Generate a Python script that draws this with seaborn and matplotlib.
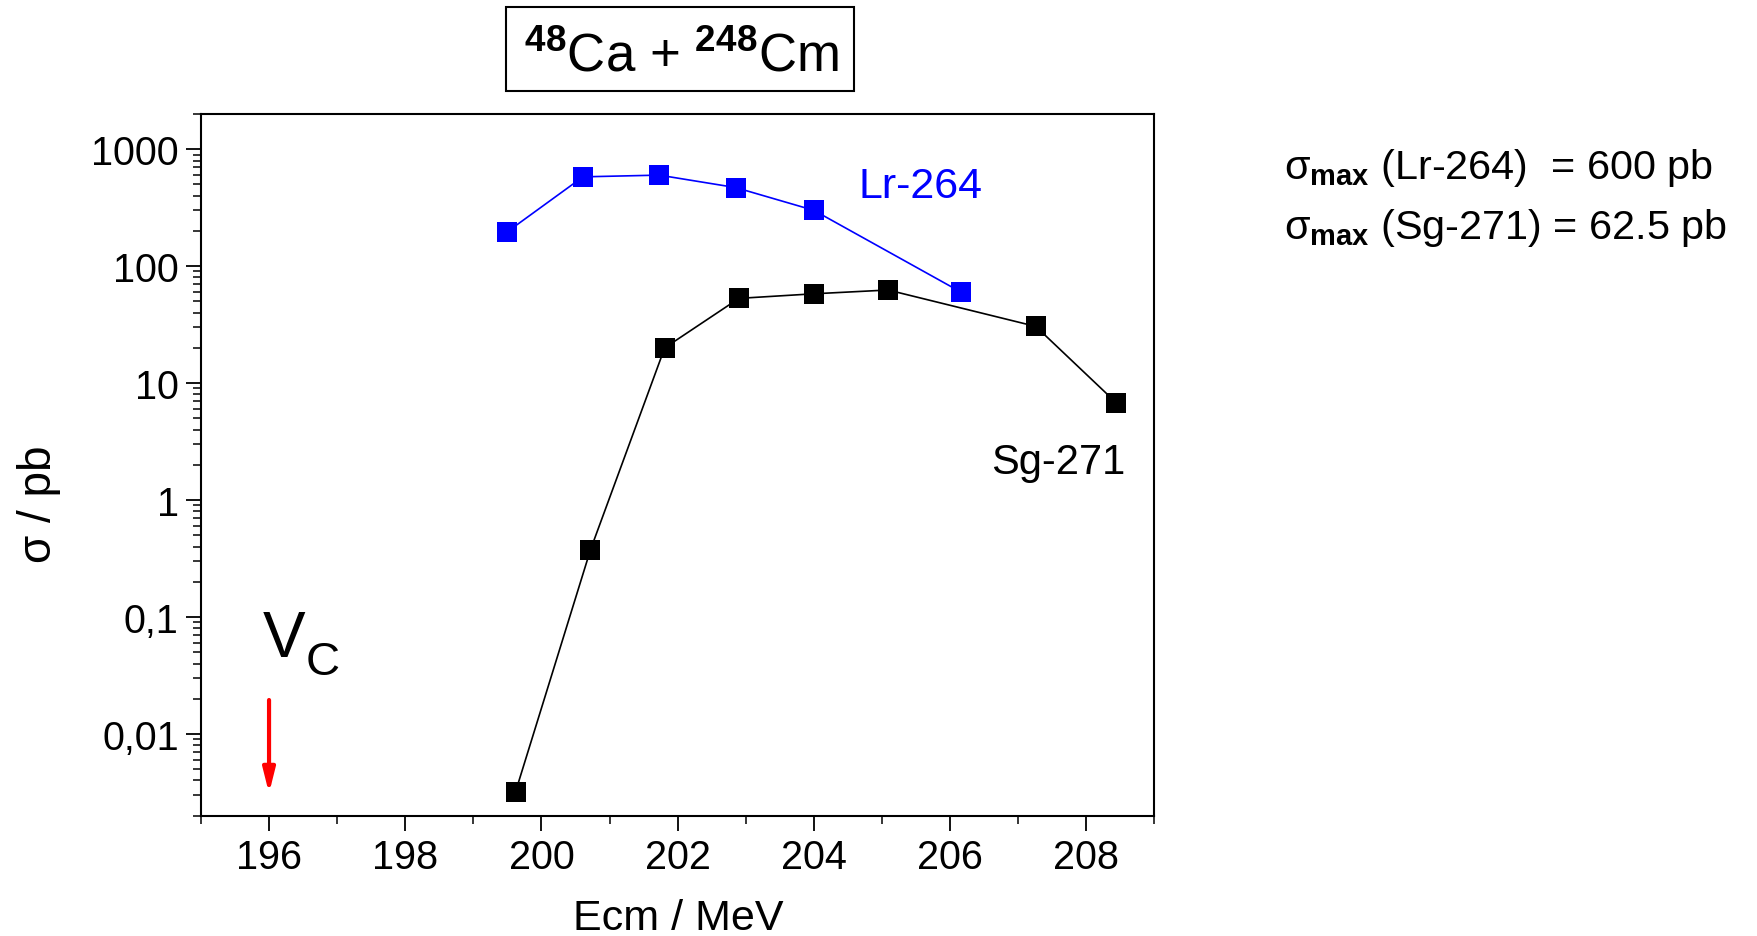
import matplotlib
matplotlib.use("Agg")
import matplotlib.pyplot as plt
import matplotlib.ticker as mticker
from matplotlib.patches import Rectangle
import numpy as np
import pandas as pd
import seaborn as sns

# Excitation functions for 48Ca + 248Cm
lr_energy = [199.49, 200.61, 201.73, 202.85, 204.00, 206.16]
lr_sigma = [195, 580, 600, 470, 300, 60]

sg_energy = [199.62, 200.72, 201.81, 202.90, 204.00, 205.09, 207.26, 208.44]
sg_sigma = [0.0032, 0.375, 20, 53, 58, 62.5, 30.5, 6.8]

y_ticks = [0.01, 0.1, 1, 10, 100, 1000]
y_tick_labels = ["0,01", "0,1", "1", "10", "100", "1000"]
x_ticks = [196, 198, 200, 202, 204, 206, 208]

coulomb_barrier = 196.0

sns.set_theme(style="ticks")
plt.rcParams["font.family"] = ["Liberation Sans", "DejaVu Sans"]
plt.rcParams["mathtext.fontset"] = "custom"
plt.rcParams["mathtext.rm"] = "Liberation Sans"
plt.rcParams["mathtext.it"] = "Liberation Sans"
plt.rcParams["mathtext.bf"] = "Liberation Sans:bold"
for key in ("text.color", "axes.labelcolor", "xtick.color", "ytick.color",
            "axes.edgecolor"):
    plt.rcParams[key] = "black"

fig = plt.figure(figsize=(17.58, 9.37), dpi=100)
ax = fig.add_axes([0.1143, 0.1284, 0.6566 - 0.1143, 0.8773 - 0.1284])

lr = pd.DataFrame({"E": lr_energy, "sigma": lr_sigma})
sg = pd.DataFrame({"E": sg_energy, "sigma": sg_sigma})

sns.lineplot(data=lr, x="E", y="sigma", ax=ax, color="blue", marker="s",
             markersize=14, markeredgewidth=0, linewidth=1.2, sort=False)
sns.lineplot(data=sg, x="E", y="sigma", ax=ax, color="black", marker="s",
             markersize=14, markeredgewidth=0, linewidth=1.2, sort=False)

ax.set_yscale("log")
ax.set_xlim(195, 209)
ax.set_ylim(0.002, 2000)

ax.set_xticks(x_ticks)
ax.xaxis.set_minor_locator(mticker.MultipleLocator(1))
ax.set_yticks(y_ticks)
ax.set_yticklabels(y_tick_labels)
ax.yaxis.set_minor_locator(mticker.LogLocator(base=10, subs=np.arange(2, 10)))
ax.yaxis.set_minor_formatter(mticker.NullFormatter())

ax.tick_params(axis="both", which="major", direction="out", length=11, width=1.3,
               labelsize=28.5, color="black", labelcolor="black", pad=5)
ax.tick_params(axis="both", which="minor", direction="out", length=6, width=1.1,
               color="black")
for s in ax.spines.values():
    s.set_visible(True)
    s.set_color("black")
    s.set_linewidth(1.5)

ax.set_xlabel("")
ax.set_ylabel("")
fig.text(0.3858, 0.008, "Ecm / MeV", fontsize=31, ha="center", va="baseline")
fig.text(0.0223, 0.4616, "σ / pb", fontsize=33, rotation=90,
         ha="center", va="center")

# Series labels
ax.text(205.57, 482, "Lr-264", color="blue", fontsize=31, ha="center", va="center")
ax.text(207.59, 2.13, "Sg-271", color="black", fontsize=30, ha="center", va="center")

# Coulomb barrier marker
ax.text(195.91, 0.046, "V", fontsize=46, ha="left", va="baseline")
ax.annotate("C", xy=(195.91, 0.046), xytext=(31, -13), textcoords="offset points",
            fontsize=34, ha="left", va="baseline")
ax.annotate("", xy=(coulomb_barrier, 0.0031), xytext=(coulomb_barrier, 0.0195),
            arrowprops=dict(arrowstyle="-|>,head_width=0.3,head_length=1.2",
                            color="red", lw=3, shrinkA=0, shrinkB=0))

# Reaction title in a framed box
fig.patches.append(Rectangle((0.2876, 0.9018), 0.4860 - 0.2876, 0.9917 - 0.9018,
                             transform=fig.transFigure, facecolor="white",
                             edgecolor="black", linewidth=1.5))
fig.text(0.3875, 0.9234, r"$^{\mathbf{48}}$Ca + $^{\mathbf{248}}$Cm", fontsize=38,
         ha="center", va="baseline")

# Maximum cross sections
fig.text(0.7302, 0.809, r"σ$_{\mathbf{max}}$ (Lr-264)  = 600 pb", fontsize=29.8,
         ha="left", va="baseline")
fig.text(0.7302, 0.745, r"σ$_{\mathbf{max}}$ (Sg-271) = 62.5 pb", fontsize=29.8,
         ha="left", va="baseline")

fig.savefig("out.png", dpi=100, facecolor="white")
